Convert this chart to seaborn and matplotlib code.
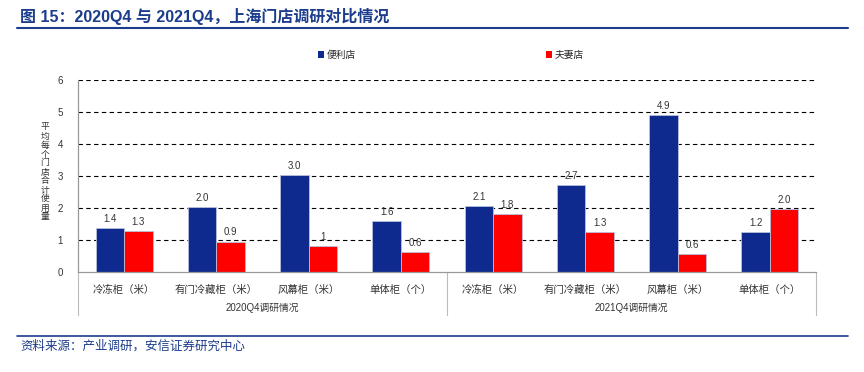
import numpy as np
import pandas as pd
import matplotlib
matplotlib.use("Agg")
import matplotlib.pyplot as plt
import seaborn as sns
from matplotlib.patches import Patch
from matplotlib.lines import Line2D
from matplotlib.transforms import blended_transform_factory

# ---------------- data ----------------
groups = ["2020Q4调研情况", "2021Q4调研情况"]
categories = ["冷冻柜（米）", "有门冷藏柜（米）", "风幕柜（米）", "单体柜（个）"]
series_names = ["便利店", "夫妻店"]
conv_values = [1.38, 2.03, 3.03, 1.59, 2.06, 2.71, 4.90, 1.24]
mom_values = [1.28, 0.95, 0.82, 0.62, 1.80, 1.26, 0.57, 1.96]
conv_labels = ["1.4", "2.0", "3.0", "1.6", "2.1", "2.7", "4.9", "1.2"]
mom_labels = ["1.3", "0.9", "1", "0.6", "1.8", "1.3", "0.6", "2.0"]
y_ticks = [0, 1, 2, 3, 4, 5, 6]
y_label = "平均每个门店合计使用量"
title = "图 15：2020Q4 与 2021Q4，上海门店调研对比情况"
source = "资料来源：产业调研，安信证券研究中心"

BLUE = "#0E2A8E"
RED = "#FF0000"
NAVY = "#1C3C8C"

sns.set_style("white")
plt.rcParams["font.family"] = ["Liberation Sans", "Noto Sans CJK SC", "DejaVu Sans"]

keys = [f"{g}|{c}" for g in groups for c in categories]
df = pd.DataFrame({
    "key": keys * 2,
    "store": [series_names[0]] * len(keys) + [series_names[1]] * len(keys),
    "value": conv_values + mom_values,
})

fig = plt.figure(figsize=(8.64, 3.72), dpi=100)
ax = fig.add_axes([78 / 864, 1 - 272 / 372, (816 - 78) / 864, (272 - 80) / 372])

sns.barplot(data=df, x="key", y="value", hue="store", order=keys,
            hue_order=series_names, palette=[BLUE, RED], width=0.62,
            edgecolor="#B8C0DC", linewidth=0.6, legend=False, ax=ax,
            saturation=1)

for cont, labs in zip(ax.containers, [conv_labels, mom_labels]):
    ax.bar_label(cont, labels=labs, padding=3, fontsize=7, color="#333333")

ax.set_xlim(-0.5, len(keys) - 0.5)
ax.set_ylim(0, 6)
ax.set_yticks(y_ticks)
ax.set_yticklabels([str(t) for t in y_ticks], fontsize=7, color="#333333")
ax.tick_params(axis="y", length=3, color="#999999", pad=8, width=0.8)

# grid
for t in y_ticks[1:]:
    ax.axhline(t, color="black", lw=0.8, ls=(0, (4, 3)), zorder=0)

for s in ["top", "right"]:
    ax.spines[s].set_visible(False)
for s in ["left", "bottom"]:
    ax.spines[s].set_color("#999999")
    ax.spines[s].set_linewidth(0.9)

# x category labels and separators
ax.set_xticks(range(len(keys)))
ax.set_xticklabels(categories * len(groups), fontsize=7.5, color="#333333")
ax.tick_params(axis="x", length=0, pad=9)
ax.set_xticks(np.arange(-0.5, len(keys), 1.0), minor=True)
ax.tick_params(axis="x", which="minor", length=15, color="#BBBBBB", width=0.8)
ax.set_xlabel("")
ax.set_ylabel("")

trans = blended_transform_factory(ax.transData, ax.transAxes)
depth = -(315 - 272) / 192
for b in [-0.5, 3.5, 7.5]:
    ax.add_line(Line2D([b, b], [0, depth], transform=trans, color="#BBBBBB",
                       lw=0.8, clip_on=False))
for i, g in enumerate(groups):
    ax.text(i * len(categories) + (len(categories) - 1) / 2, -(308 - 272) / 192, g,
            transform=trans, ha="center", va="center", fontsize=7, color="#333333")

# y label stacked vertically
fig.text(45 / 864, 1 - 172 / 372, "\n".join(y_label), ha="center", va="center",
         fontsize=6.3, color="#333333", linespacing=1.0,
         family=["Noto Sans CJK SC", "DejaVu Sans"])

# legend
handles = [Patch(facecolor=BLUE, edgecolor="none"), Patch(facecolor=RED, edgecolor="none")]
ax.legend(handles, series_names, loc="center", bbox_to_anchor=((451 - 78) / 738, (272 - 55) / 192),
          ncol=2, frameon=False, handlelength=0.6, handleheight=0.6,
          handletextpad=0.3, columnspacing=19.5, prop={"family": ["Noto Sans CJK SC"], "size": 7})

# title and rules
fig.text(20 / 864, 1 - 16 / 372, title, ha="left", va="center", fontsize=11.5,
         fontweight="bold", color=NAVY)
fig.add_artist(Line2D([17 / 864, 848 / 864], [1 - 28 / 372, 1 - 28 / 372],
                      color=NAVY, lw=1.5))
fig.add_artist(Line2D([17 / 864, 848 / 864], [1 - 336 / 372, 1 - 336 / 372],
                      color=NAVY, lw=1.2))
fig.text(20 / 864, 1 - 346 / 372, source, ha="left", va="center", fontsize=9,
         color=NAVY, style="italic", family=["Noto Sans CJK SC", "DejaVu Sans"])

fig.savefig("out.png", dpi=100)
